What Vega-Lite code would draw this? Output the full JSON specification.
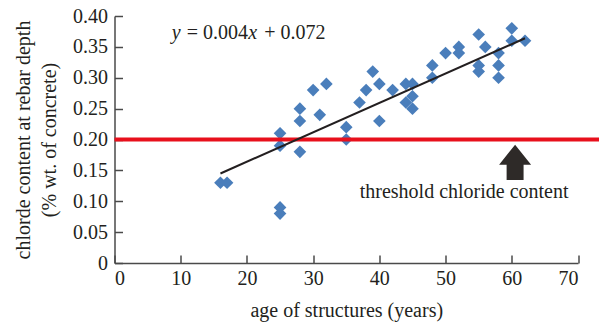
{
  "$schema": "https://vega.github.io/schema/vega-lite/v6.json",
  "autosize": "none",
  "width": 463.5,
  "height": 247,
  "padding": {"left": 114.5, "top": 16, "right": 21, "bottom": 63},
  "background": "white",
  "config": {
    "view": {"stroke": null},
    "font": "'Liberation Serif', 'Times New Roman', serif",
    "axis": {
      "domainColor": "#4a4a4a",
      "domainWidth": 1.5,
      "tickColor": "#4a4a4a",
      "tickWidth": 1.5,
      "tickSize": -8,
      "grid": false,
      "labelFont": "'Liberation Serif', 'Times New Roman', serif",
      "labelFontSize": 20,
      "labelColor": "#231f20",
      "titleFont": "'Liberation Serif', 'Times New Roman', serif",
      "titleFontSize": 20,
      "titleFontWeight": "normal",
      "titleColor": "#231f20"
    }
  },
  "datasets": {
    "survey": [
      {"age": 16, "chloride": 0.13}, {"age": 17, "chloride": 0.13},
      {"age": 25, "chloride": 0.21}, {"age": 25, "chloride": 0.19},
      {"age": 25, "chloride": 0.09}, {"age": 25, "chloride": 0.08},
      {"age": 28, "chloride": 0.25}, {"age": 28, "chloride": 0.23},
      {"age": 28, "chloride": 0.18}, {"age": 30, "chloride": 0.28},
      {"age": 31, "chloride": 0.24}, {"age": 32, "chloride": 0.29},
      {"age": 35, "chloride": 0.22}, {"age": 35, "chloride": 0.20},
      {"age": 37, "chloride": 0.26}, {"age": 38, "chloride": 0.28},
      {"age": 39, "chloride": 0.31}, {"age": 40, "chloride": 0.29},
      {"age": 40, "chloride": 0.23}, {"age": 42, "chloride": 0.28},
      {"age": 44, "chloride": 0.29}, {"age": 45, "chloride": 0.29},
      {"age": 44, "chloride": 0.26}, {"age": 45, "chloride": 0.27},
      {"age": 45, "chloride": 0.25}, {"age": 48, "chloride": 0.32},
      {"age": 48, "chloride": 0.30}, {"age": 50, "chloride": 0.34},
      {"age": 52, "chloride": 0.35}, {"age": 52, "chloride": 0.34},
      {"age": 55, "chloride": 0.37}, {"age": 55, "chloride": 0.32},
      {"age": 55, "chloride": 0.31}, {"age": 56, "chloride": 0.35},
      {"age": 58, "chloride": 0.34}, {"age": 58, "chloride": 0.32},
      {"age": 58, "chloride": 0.30}, {"age": 60, "chloride": 0.38},
      {"age": 60, "chloride": 0.36}, {"age": 62, "chloride": 0.36}
    ],
    "trend": [
      {"age": 16, "chloride": 0.145},
      {"age": 62, "chloride": 0.364}
    ],
    "threshold": [
      {"age": 0, "age_end": 73.2, "chloride": 0.2}
    ],
    "arrow": [
      {"age": 60.5, "chloride": 0.163}
    ],
    "note": [
      {"age": 52.8, "chloride": 0.106, "label": "threshold chloride content"}
    ],
    "eq_plain": [
      {"age": 10.9, "chloride": 0.3625, "label": "= 0.004"},
      {"age": 22.6, "chloride": 0.3625, "label": "+ 0.072"}
    ],
    "eq_italic": [
      {"age": 8.64, "chloride": 0.3625, "label": "y"},
      {"age": 20.2, "chloride": 0.3625, "label": "x"}
    ]
  },
  "encoding": {
    "x": {
      "field": "age",
      "type": "quantitative",
      "scale": {"domain": [0, 70], "nice": false, "zero": false},
      "axis": {
        "title": "age of structures (years)",
        "values": [0, 10, 20, 30, 40, 50, 60, 70],
        "labelPadding": 13,
        "titlePadding": 12
      }
    },
    "y": {
      "field": "chloride",
      "type": "quantitative",
      "scale": {"domain": [0, 0.4], "nice": false, "zero": false},
      "axis": {
        "title": ["chlorde content at rebar depth", "(% wt. of concrete)"],
        "values": [0, 0.05, 0.1, 0.15, 0.2, 0.25, 0.3, 0.35, 0.4],
        "labelExpr": "datum.value == 0 ? '0' : format(datum.value, '.2f')",
        "labelPadding": 15,
        "titlePadding": 13,
        "titleLineHeight": 26
      }
    }
  },
  "layer": [
    {
      "data": {"name": "survey"},
      "mark": {"type": "point", "shape": "diamond", "filled": true, "size": 160, "opacity": 1, "color": "#4a7ebb"}
    },
    {
      "data": {"name": "threshold"},
      "mark": {"type": "rule", "color": "#e8101c", "strokeWidth": 4, "clip": false},
      "encoding": {"x2": {"field": "age_end"}}
    },
    {
      "data": {"name": "trend"},
      "mark": {"type": "line", "color": "#231f20", "strokeWidth": 2}
    },
    {
      "data": {"name": "arrow"},
      "mark": {
        "type": "point",
        "filled": true,
        "opacity": 1,
        "color": "#2e2a28",
        "size": 1024,
        "shape": "M0,-1.1L1,0.15L0.53,0.15L0.53,1.1L-0.53,1.1L-0.53,0.15L-1,0.15Z"
      }
    },
    {
      "data": {"name": "note"},
      "mark": {"type": "text", "fontSize": 20, "color": "#231f20", "align": "center", "baseline": "alphabetic"},
      "encoding": {"text": {"field": "label"}}
    },
    {
      "data": {"name": "eq_plain"},
      "mark": {"type": "text", "fontSize": 20, "color": "#231f20", "align": "left", "baseline": "alphabetic"},
      "encoding": {"text": {"field": "label"}}
    },
    {
      "data": {"name": "eq_italic"},
      "mark": {"type": "text", "fontSize": 20, "fontStyle": "italic", "color": "#231f20", "align": "left", "baseline": "alphabetic"},
      "encoding": {"text": {"field": "label"}}
    }
  ]
}
